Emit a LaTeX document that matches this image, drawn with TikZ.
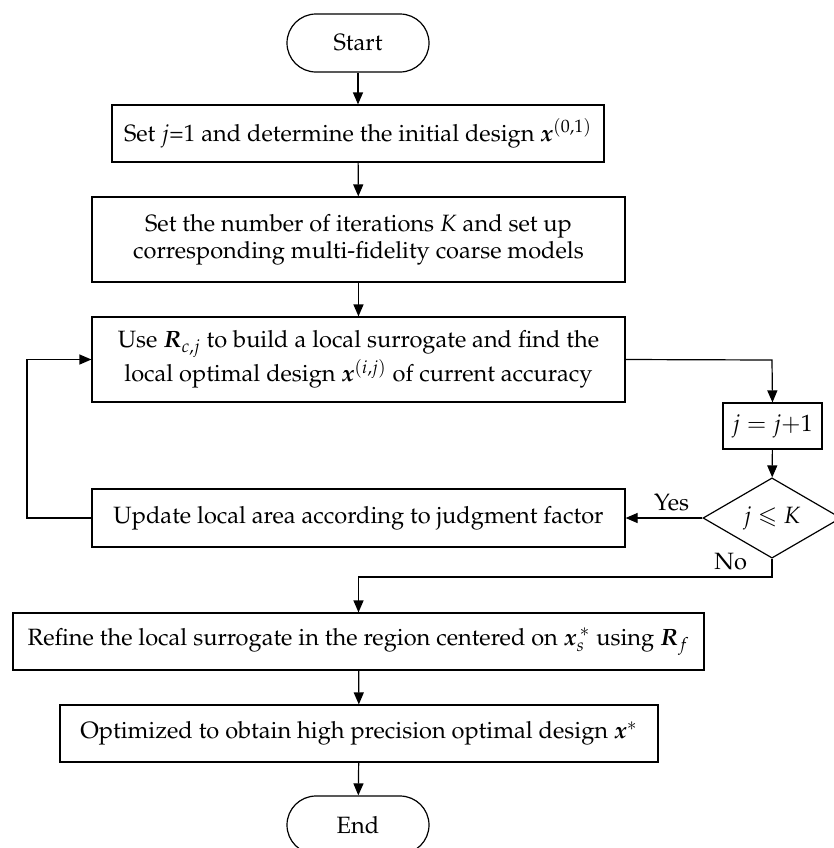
\documentclass[tikz,border=0pt]{standalone}
\usepackage[T1]{fontenc}
\usepackage{mathpazo}
\usepackage{amsmath,amssymb}
\usetikzlibrary{arrows.meta,shapes.geometric}
\newcommand{\bx}{\boldsymbol{x}}
\newcommand{\bR}{\boldsymbol{R}}

\tikzset{
	procbox/.style={draw, line width=0.6pt, align=center, inner sep=0pt},
	termbox/.style={draw, line width=0.6pt, rounded corners=14.5pt, minimum width=71pt, minimum height=29pt, inner sep=0pt},
	judgebox/.style={draw, diamond, line width=0.6pt, inner sep=0pt, minimum width=69pt, minimum height=29pt},
	flow/.style={-{Triangle[length=6pt,width=5pt]}, line width=0.6pt},
}

\begin{document}
\begin{tikzpicture}[x=0.5pt, y=-0.5pt, font=\fontsize{11.8}{13.5}\selectfont]
	\useasboundingbox (0,0) rectangle (834,848);
	
	\node[termbox] (start) at (358,43) {Start};
	\node[procbox, minimum width=246pt, minimum height=28.5pt] (setj) at (358,133.5) {Set $j$=1 and determine the initial design $\bx^{(0,1)}$};
	\node[procbox, minimum width=266.5pt, minimum height=42.5pt] (setk) at (358.5,239.5) {Set the number of iterations $K$ and set up\\corresponding multi-fidelity coarse models};
	\node[procbox, minimum width=266.5pt, minimum height=42.5pt] (surr) at (358.5,359.5) {Use $\bR_{c,j}$ to build a local surrogate and find the\\local optimal design $\bx^{(i,j)}$ of current accuracy};
	\node[procbox, minimum width=49.5pt, minimum height=23pt] (incr) at (772.5,426) {$j=j{+}1$};
	\node[judgebox] (judge) at (772,518) {$j\leqslant K$};
	\node[procbox, minimum width=266.5pt, minimum height=29pt] (update) at (358.5,518) {Update local area according to judgment factor};
	\node[procbox, minimum width=345.5pt, minimum height=28.5pt] (refine) at (358.5,641.5) {Refine the local surrogate in the region centered on $\bx_s^{\,*}$ using $\bR_f$};
	\node[procbox, minimum width=299pt, minimum height=28.5pt] (optim) at (359,733.5) {Optimized to obtain high precision optimal design $\bx^*$};
	\node[termbox] (end) at (358,825) {End};
	
	\coordinate (turn1) at (772,360);
	\coordinate (turn2) at (772,577);
	\coordinate (turn3) at (358.5,577);
	\coordinate (back) at (27,518);
	\coordinate (back2) at (27,359.5);
	
	\draw[flow] (start) -- (setj);
	\draw[flow] (setj) -- (setk);
	\draw[flow] (setk) -- (surr);
	\draw[flow] (surr.east) -- (turn1) -- (incr.north);
	\draw[flow] (incr) -- (judge);
	\draw[flow] (judge.west) -- node[above, pos=0.4] {Yes} (update.east);
	\draw[flow] (judge.south) -- (turn2) -- node[above, pos=0.1] {No} (turn3) -- (refine.north);
	\draw[flow] (update.west) -- (back) -- (back2) -- (surr.west);
	\draw[flow] (refine) -- (optim);
	\draw[flow] (optim) -- (end);
\end{tikzpicture}
\end{document}
